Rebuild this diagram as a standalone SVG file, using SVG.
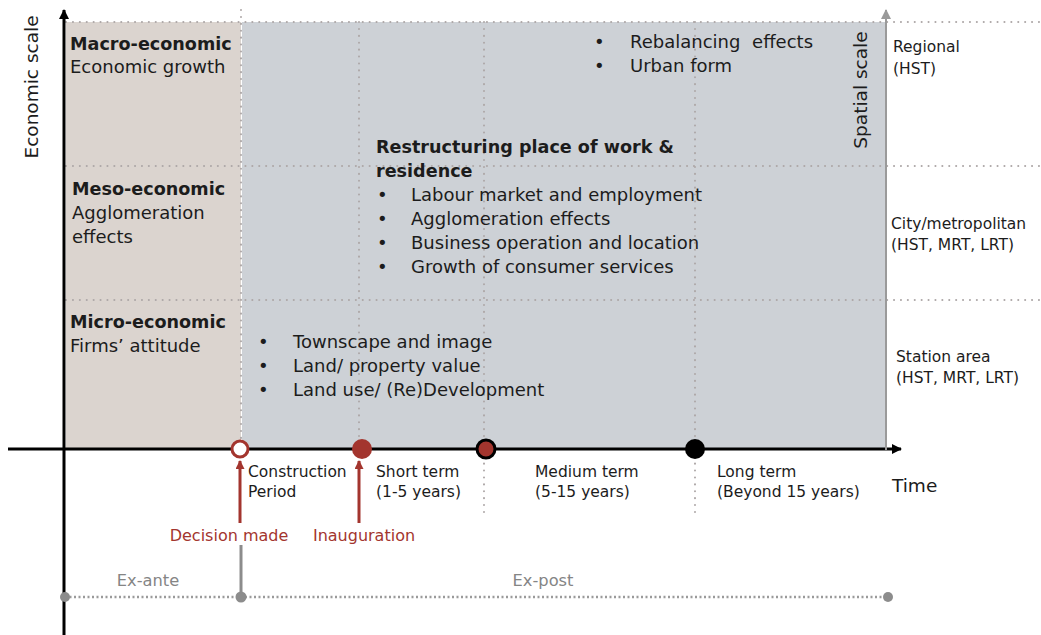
<svg xmlns="http://www.w3.org/2000/svg" width="1041" height="635" viewBox="0 0 1041 635">
<style>
text{font-family:"DejaVu Sans","Noto Sans",sans-serif;fill:#1c1c1c}
.t18{font-size:18px}
.b18{font-size:17.6px;font-weight:bold}
.t15{font-size:15.5px}
.red{font-size:16px;fill:#a3352e}
.gr{font-size:16.3px;fill:#858585}
.dot{stroke:#ada7a7;stroke-width:2;stroke-linecap:round;stroke-dasharray:0.1 6.8;fill:none}
.gdot{stroke:#9a9a9a;stroke-width:2.5;stroke-dasharray:2 2.5;fill:none}
</style>
<defs>
<marker id="ahBlack" markerWidth="10" markerHeight="10" refX="9" refY="5" orient="auto" markerUnits="userSpaceOnUse"><path d="M0,0 L10,5 L0,10 Z" fill="#000"/></marker>
<marker id="ahGray" markerWidth="10" markerHeight="10" refX="9" refY="5" orient="auto" markerUnits="userSpaceOnUse"><path d="M0,0 L10,5 L0,10 Z" fill="#9a9a9a"/></marker>
<marker id="ahRed" markerWidth="9" markerHeight="9" refX="8" refY="4.5" orient="auto" markerUnits="userSpaceOnUse"><path d="M0,0 L9,4.5 L0,9 Z" fill="#a3352e"/></marker>
</defs>
<rect width="1041" height="635" fill="#fff"/>
<g id="background">
<rect x="66" y="22" width="175" height="428" fill="#dbd4cf"/>
<rect x="242" y="22" width="643" height="428" fill="#cdd1d6"/>
</g>
<g id="grid">
<line class="dot" x1="66" y1="22" x2="1041" y2="22"/>
<line class="dot" x1="66" y1="166" x2="1041" y2="166"/>
<line class="dot" x1="66" y1="300" x2="1041" y2="300"/>
<line class="dot" x1="241" y1="10" x2="241" y2="445"/>
<line class="dot" x1="359" y1="22" x2="359" y2="440"/>
<line class="dot" x1="484" y1="22" x2="484" y2="512"/>
<line class="dot" x1="695" y1="22" x2="695" y2="512"/>
</g>
<g id="connectors">
<line x1="64" y1="635" x2="64" y2="10" stroke="#000" stroke-width="3" marker-end="url(#ahBlack)"/>
<line x1="8" y1="449" x2="901" y2="449" stroke="#000" stroke-width="3" marker-end="url(#ahBlack)"/>
<line x1="886" y1="450" x2="886" y2="10" stroke="#9a9a9a" stroke-width="2" marker-end="url(#ahGray)"/>
<line x1="240" y1="523" x2="240" y2="461" stroke="#a3352e" stroke-width="3" marker-end="url(#ahRed)"/>
<line x1="359" y1="523" x2="359" y2="461" stroke="#a3352e" stroke-width="3" marker-end="url(#ahRed)"/>
<line x1="241" y1="545" x2="241" y2="597" stroke="#8c8c8c" stroke-width="3"/>
<line class="gdot" x1="65" y1="597" x2="888" y2="597"/>
</g>
<g id="timeline-points">
<circle cx="240" cy="449" r="8" fill="#fff" stroke="#a3352e" stroke-width="3"/>
<circle cx="362" cy="449" r="10" fill="#a3352e"/>
<circle cx="486" cy="449" r="9" fill="#a3352e" stroke="#000" stroke-width="3"/>
<circle cx="695" cy="449" r="10" fill="#000"/>
<circle cx="65" cy="597" r="5" fill="#8c8c8c"/>
<circle cx="241" cy="597" r="5.5" fill="#8c8c8c"/>
<circle cx="888" cy="597" r="5" fill="#8c8c8c"/>
</g>
<g id="axis-labels">
<text class="t18" transform="translate(38,87) rotate(-90)" text-anchor="middle" style="font-size:18.5px">Economic scale</text>
<text class="t18" transform="translate(867,90) rotate(-90)" text-anchor="middle" style="font-size:18.5px">Spatial scale</text>
<text class="t18" x="892" y="492" style="font-size:18.5px">Time</text>
</g>
<g id="macro">
<text class="b18" x="70" y="50">Macro-economic</text>
<text class="t18" x="70" y="73">Economic growth</text>
</g>
<g id="meso">
<text class="b18" x="72" y="195">Meso-economic</text>
<text class="t18" x="72" y="219">Agglomeration</text>
<text class="t18" x="72" y="243">effects</text>
</g>
<g id="micro">
<text class="b18" x="70" y="328">Micro-economic</text>
<text class="t18" x="70" y="352">Firms’ attitude</text>
</g>
<g id="macro-effects">
<text class="t18" x="594" y="48">•</text>
<text class="t18" x="630" y="48" word-spacing="6">Rebalancing effects</text>
<text class="t18" x="594" y="72">•</text>
<text class="t18" x="630" y="72">Urban form</text>
</g>
<g id="meso-effects">
<text class="b18" x="376" y="153">Restructuring place of work &amp;</text>
<text class="b18" x="376" y="177">residence</text>
<text class="t18" x="377" y="201">•</text>
<text class="t18" x="411" y="201">Labour market and employment</text>
<text class="t18" x="377" y="225">•</text>
<text class="t18" x="411" y="225">Agglomeration effects</text>
<text class="t18" x="377" y="249">•</text>
<text class="t18" x="411" y="249">Business operation and location</text>
<text class="t18" x="377" y="273">•</text>
<text class="t18" x="411" y="273">Growth of consumer services</text>
</g>
<g id="micro-effects">
<text class="t18" x="258" y="348">•</text>
<text class="t18" x="293" y="348">Townscape and image</text>
<text class="t18" x="258" y="372">•</text>
<text class="t18" x="293" y="372">Land/ property value</text>
<text class="t18" x="258" y="396">•</text>
<text class="t18" x="293" y="396">Land use/ (Re)Development</text>
</g>
<g id="spatial-scales">
<text class="t15" x="893" y="52">Regional</text>
<text class="t15" x="893" y="74">(HST)</text>
<text class="t15" x="891" y="229">City/metropolitan</text>
<text class="t15" x="891" y="250">(HST, MRT, LRT)</text>
<text class="t15" x="896" y="362">Station area</text>
<text class="t15" x="896" y="383">(HST, MRT, LRT)</text>
</g>
<g id="time-periods">
<text class="t15" x="248" y="477">Construction</text>
<text class="t15" x="248" y="497">Period</text>
<text class="t15" x="376" y="477">Short term</text>
<text class="t15" x="376" y="497">(1-5 years)</text>
<text class="t15" x="535" y="477">Medium term</text>
<text class="t15" x="535" y="497">(5-15 years)</text>
<text class="t15" x="717" y="477">Long term</text>
<text class="t15" x="717" y="497">(Beyond 15 years)</text>
</g>
<g id="events">
<text class="red" x="229" y="541" text-anchor="middle">Decision made</text>
<text class="red" x="364" y="541" text-anchor="middle">Inauguration</text>
</g>
<g id="phases">
<text class="gr" x="148" y="586" text-anchor="middle">Ex-ante</text>
<text class="gr" x="543" y="586" text-anchor="middle">Ex-post</text>
</g>
</svg>
